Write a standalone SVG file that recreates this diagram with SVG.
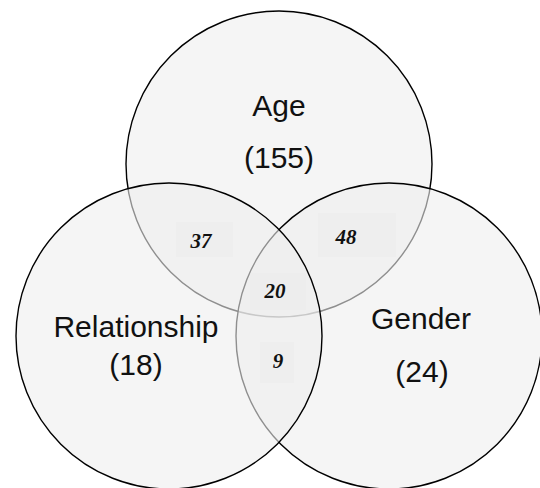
<svg xmlns="http://www.w3.org/2000/svg" width="540" height="488" viewBox="0 0 540 488">
<style>
.set{fill:#eeeeee;fill-opacity:0.6;stroke:#000;stroke-width:1.4}
.lbl{font-family:"Liberation Sans",Arial,sans-serif;font-size:30px;fill:#111;text-anchor:middle}
.num{font-family:"Liberation Serif","Times New Roman",serif;font-size:21px;font-weight:bold;font-style:italic;fill:#111;text-anchor:middle}
.box{fill:#e6e6e6;fill-opacity:0.25}
</style>
<rect width="540" height="488" fill="#fff"/>
<g id="age"><circle class="set" cx="279" cy="164" r="153"/></g>
<g id="gender"><circle class="set" cx="389" cy="336" r="153"/></g>
<g id="relationship"><circle class="set" cx="169" cy="336" r="153"/></g>
<g id="labels-age"><text class="lbl" x="279" y="116">Age</text><text class="lbl" x="279" y="168">(155)</text></g>
<g id="labels-relationship"><text class="lbl" x="136" y="337">Relationship</text><text class="lbl" x="136" y="375">(18)</text></g>
<g id="labels-gender"><text class="lbl" x="421" y="329">Gender</text><text class="lbl" x="422" y="382">(24)</text></g>
<g id="n37"><rect class="box" x="176" y="222" width="57" height="35"/><text class="num" x="201" y="248">37</text></g>
<g id="n48"><rect class="box" x="318" y="213" width="78" height="44"/><text class="num" x="346" y="244">48</text></g>
<g id="n20"><rect class="box" x="250" y="273" width="56" height="37"/><text class="num" x="275" y="298">20</text></g>
<g id="n9"><rect class="box" x="260" y="342" width="34" height="41"/><text class="num" x="278" y="368">9</text></g>
<g id="connectors"/>
</svg>
